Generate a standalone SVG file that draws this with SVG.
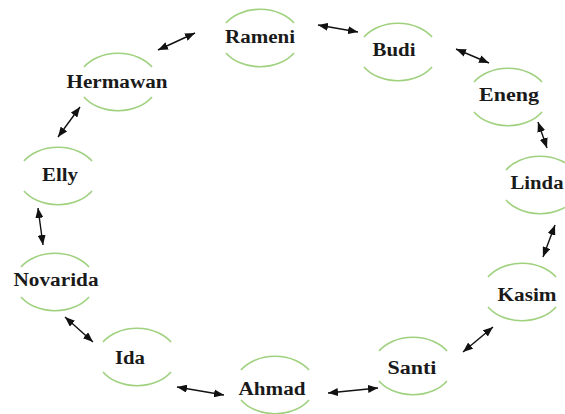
<svg xmlns="http://www.w3.org/2000/svg" width="565" height="414" viewBox="0 0 565 414">
<defs>
<marker id="ah" markerWidth="10" markerHeight="8" refX="10" refY="4" orient="auto-start-reverse" markerUnits="userSpaceOnUse">
<path d="M0,0 L10,4 L0,8 z" fill="#111"/>
</marker>
<style>
.arc{fill:none;stroke:#9fd17f;stroke-width:1.6}
.lbl{font-family:"Liberation Serif","Times New Roman",serif;font-weight:bold;font-size:18px;fill:#1a1a1a;text-anchor:middle}
.con{stroke:#111;stroke-width:1.4;fill:none;marker-start:url(#ah);marker-end:url(#ah)}
</style>
</defs>
<rect width="565" height="414" fill="#fff"/>
<g id="connectors">
<line class="con" x1="318" y1="25" x2="358" y2="32"/>
<line class="con" x1="456" y1="49" x2="489" y2="63"/>
<line class="con" x1="538" y1="122" x2="547" y2="148"/>
<line class="con" x1="555" y1="225" x2="543" y2="257"/>
<line class="con" x1="493" y1="327" x2="463" y2="352"/>
<line class="con" x1="378" y1="388" x2="328" y2="393"/>
<line class="con" x1="224" y1="395" x2="177" y2="387"/>
<line class="con" x1="93" y1="342" x2="65" y2="317"/>
<line class="con" x1="43" y1="245" x2="38" y2="208"/>
<line class="con" x1="58" y1="137" x2="80" y2="107"/>
<line class="con" x1="158" y1="50" x2="195" y2="33"/>
</g>
<g id="rameni">
<path class="arc" d="M226,23 A40,29 0 0 1 294,23 M226,53 A40,29 0 0 0 294,53"/>
<text class="lbl" x="260" y="43" textLength="70" lengthAdjust="spacingAndGlyphs">Rameni</text>
</g>
<g id="budi">
<path class="arc" d="M364,37 A40,29 0 0 1 432,37 M364,67 A40,29 0 0 0 432,67"/>
<text class="lbl" x="394" y="56" textLength="43" lengthAdjust="spacingAndGlyphs">Budi</text>
</g>
<g id="eneng">
<path class="arc" d="M474,82 A40,29 0 0 1 542,82 M474,112 A40,29 0 0 0 542,112"/>
<text class="lbl" x="509" y="101" textLength="60" lengthAdjust="spacingAndGlyphs">Eneng</text>
</g>
<g id="linda">
<path class="arc" d="M506,170 A40,29 0 0 1 574,170 M506,200 A40,29 0 0 0 574,200"/>
<text class="lbl" x="537" y="189" textLength="53" lengthAdjust="spacingAndGlyphs">Linda</text>
</g>
<g id="kasim">
<path class="arc" d="M488,277 A40,29 0 0 1 556,277 M488,307 A40,29 0 0 0 556,307"/>
<text class="lbl" x="527" y="301" textLength="59" lengthAdjust="spacingAndGlyphs">Kasim</text>
</g>
<g id="santi">
<path class="arc" d="M379,351 A40,29 0 0 1 447,351 M379,381 A40,29 0 0 0 447,381"/>
<text class="lbl" x="412" y="374" textLength="49" lengthAdjust="spacingAndGlyphs">Santi</text>
</g>
<g id="ahmad">
<path class="arc" d="M241,370 A40,29 0 0 1 309,370 M241,400 A40,29 0 0 0 309,400"/>
<text class="lbl" x="272" y="395" textLength="67" lengthAdjust="spacingAndGlyphs">Ahmad</text>
</g>
<g id="ida">
<path class="arc" d="M103,342 A40,29 0 0 1 171,342 M103,372 A40,29 0 0 0 171,372"/>
<text class="lbl" x="130" y="364" textLength="30" lengthAdjust="spacingAndGlyphs">Ida</text>
</g>
<g id="novarida">
<path class="arc" d="M21,267 A40,29 0 0 1 89,267 M21,297 A40,29 0 0 0 89,297"/>
<text class="lbl" x="56" y="286" textLength="85" lengthAdjust="spacingAndGlyphs">Novarida</text>
</g>
<g id="elly">
<path class="arc" d="M24,161 A40,29 0 0 1 92,161 M24,191 A40,29 0 0 0 92,191"/>
<text class="lbl" x="60" y="181" textLength="36" lengthAdjust="spacingAndGlyphs">Elly</text>
</g>
<g id="hermawan">
<path class="arc" d="M84,67 A40,29 0 0 1 152,67 M84,97 A40,29 0 0 0 152,97"/>
<text class="lbl" x="117" y="88" textLength="101" lengthAdjust="spacingAndGlyphs">Hermawan</text>
</g>
</svg>
